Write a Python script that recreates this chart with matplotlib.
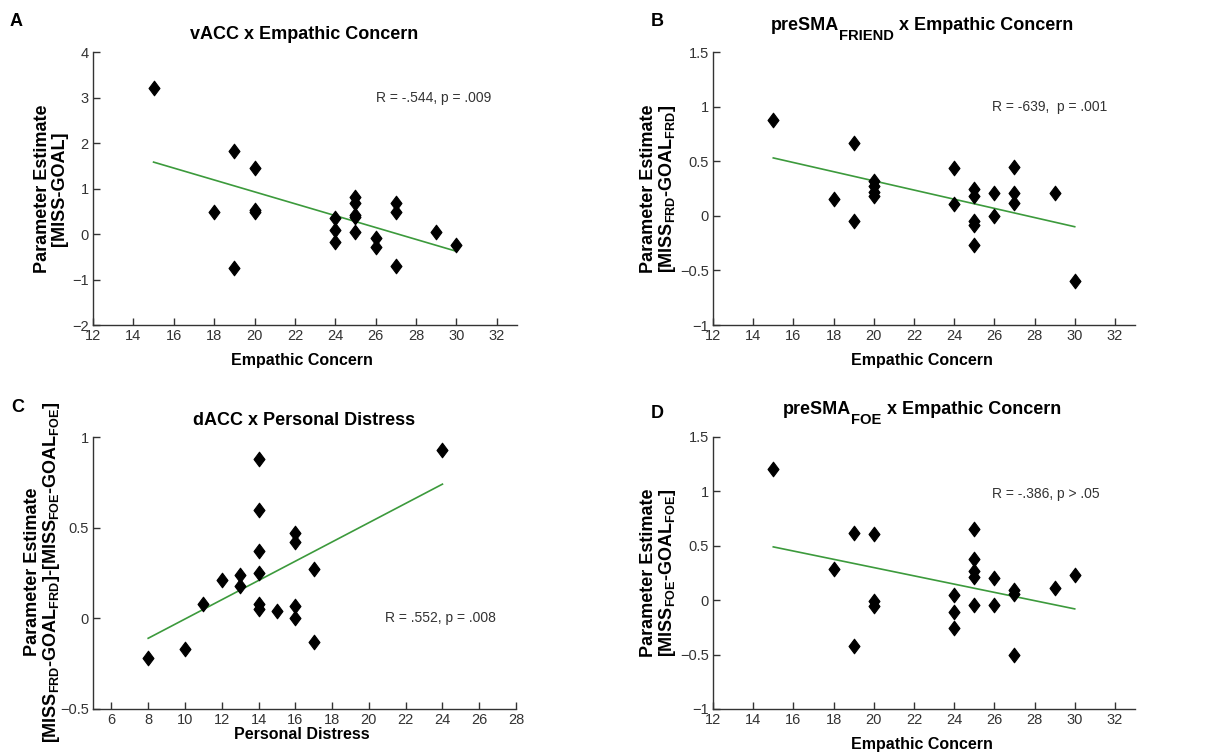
import matplotlib
matplotlib.use("Agg")
import matplotlib.pyplot as plt
from matplotlib.transforms import IdentityTransform
from matplotlib.path import Path

plt.rcParams['font.family'] = ['Liberation Sans', 'DejaVu Sans']
plt.rcParams['mathtext.fontset'] = 'custom'
plt.rcParams['mathtext.rm'] = 'Liberation Sans:bold'
plt.rcParams['mathtext.bf'] = 'Liberation Sans:bold'
plt.rcParams['mathtext.it'] = 'Liberation Sans:bold'
plt.rcParams['axes.unicode_minus'] = True

# ---------------- data ----------------
# Panel A: vACC x Empathic Concern
a_x = [15, 18, 19, 19, 20, 20, 20, 24, 24, 24, 25, 25, 25, 25, 25, 26, 26, 27, 27, 27, 29, 30]
a_y = [3.2, 0.48, 1.82, -0.75, 1.44, 0.52, 0.48, 0.35, 0.08, -0.18, 0.82, 0.68, 0.42, 0.38, 0.05,
       -0.08, -0.28, 0.68, 0.48, -0.70, 0.05, -0.25]
a_fit_x = [15, 30]
a_fit_y = [1.58, -0.38]

# Panel B: preSMA_FRIEND x Empathic Concern
b_x = [15, 18, 19, 19, 20, 20, 20, 20, 24, 24, 25, 25, 25, 25, 25, 26, 26, 27, 27, 27, 29, 30]
b_y = [0.88, 0.15, 0.67, -0.05, 0.32, 0.27, 0.22, 0.18, 0.44, 0.11, 0.25, 0.18, -0.05, -0.08, -0.27,
       0.21, 0.00, 0.45, 0.21, 0.12, 0.21, -0.60]
b_fit_x = [15, 30]
b_fit_y = [0.53, -0.10]

# Panel C: dACC x Personal Distress
c_x = [8, 10, 11, 12, 13, 13, 14, 14, 14, 14, 14, 14, 15, 16, 16, 16, 16, 17, 17, 24]
c_y = [-0.22, -0.17, 0.08, 0.21, 0.24, 0.18, 0.88, 0.60, 0.37, 0.25, 0.08, 0.05, 0.04,
       0.47, 0.42, 0.07, 0.00, 0.27, -0.13, 0.93]
c_fit_x = [8, 24]
c_fit_y = [-0.11, 0.74]

# Panel D: preSMA_FOE x Empathic Concern
d_x = [15, 18, 19, 19, 20, 20, 20, 24, 24, 24, 25, 25, 25, 25, 25, 26, 26, 27, 27, 27, 29, 30]
d_y = [1.21, 0.29, 0.62, -0.42, 0.61, -0.01, -0.05, 0.05, -0.11, -0.26, 0.65, 0.38, 0.27, 0.21, -0.04,
       0.20, -0.04, 0.09, 0.06, -0.50, 0.11, 0.23]
d_fit_x = [15, 30]
d_fit_y = [0.49, -0.08]

# titles as (text, is_subscript) segments
titles = [[('vACC x Empathic Concern', False)],
          [('preSMA', False), ('FRIEND', True), (' x Empathic Concern', False)],
          [('dACC x Personal Distress', False)],
          [('preSMA', False), ('FOE', True), (' x Empathic Concern', False)]]
xlabels = ['Empathic Concern', 'Empathic Concern', 'Personal Distress', 'Empathic Concern']
ylabels = ['Parameter Estimate\n[MISS-GOAL]',
           'Parameter Estimate\n[MISS$_{\\mathrm{FRD}}$-GOAL$_{\\mathrm{FRD}}$]',
           'Parameter Estimate\n[MISS$_{\\mathrm{FRD}}$-GOAL$_{\\mathrm{FRD}}$]-[MISS$_{\\mathrm{FOE}}$-GOAL$_{\\mathrm{FOE}}$]',
           'Parameter Estimate\n[MISS$_{\\mathrm{FOE}}$-GOAL$_{\\mathrm{FOE}}$]']
stats = ['R = -.544, p = .009', 'R = -639,  p = .001', 'R = .552, p = .008', 'R = -.386, p > .05']
letters = ['A', 'B', 'C', 'D']

xticks_ec = [12, 14, 16, 18, 20, 22, 24, 26, 28, 30, 32]
xticks_pd = [6, 8, 10, 12, 14, 16, 18, 20, 22, 24, 26, 28]
yticks_a = [-2, -1, 0, 1, 2, 3, 4]
yticks_bd = [-1, -0.5, 0, 0.5, 1, 1.5]
yticks_c = [-0.5, 0, 0.5, 1]

# ---------------- layout ----------------
fig = plt.figure(figsize=(12.21, 7.52), dpi=100)
W, H = 1221.0, 752.0

def rect(l, r, t, b):
    return [l / W, 1 - b / H, (r - l) / W, (b - t) / H]

axes = [fig.add_axes(rect(93, 517, 52, 325)),
        fig.add_axes(rect(713, 1135, 52, 325)),
        fig.add_axes(rect(93, 516, 437, 709)),
        fig.add_axes(rect(713, 1135, 437, 709))]

data = [(a_x, a_y, a_fit_x, a_fit_y), (b_x, b_y, b_fit_x, b_fit_y),
        (c_x, c_y, c_fit_x, c_fit_y), (d_x, d_y, d_fit_x, d_fit_y)]
xlims = [(12, 33), (12, 33), (5, 28), (12, 33)]
ylims = [(-2, 4), (-1, 1.5), (-0.5, 1), (-1, 1.5)]
xticks = [xticks_ec, xticks_ec, xticks_pd, xticks_ec]
yticks = [yticks_a, yticks_bd, yticks_c, yticks_bd]
stat_pos = [(26, 3.0), (25.9, 1.0), (20.9, 0.0), (25.9, 0.98)]
letter_pos = [(16, 22), (657, 22), (18, 407), (657, 413)]
title_pos = [(304, 39), (922, 30), (304, 425), (922, 414)]     # center x, baseline y (px)
xlabel_pos = [(302, 365), (922, 365), (302, 739), (922, 749)]  # center x, baseline y (px)
ylabel_pos = [(51, 189), (659, 189), (43, 572), (659, 573)]    # center x, center y (px)

diamond = Path([(0, 1), (0.75, 0), (0, -1), (-0.75, 0), (0, 1)],
               [Path.MOVETO, Path.LINETO, Path.LINETO, Path.LINETO, Path.CLOSEPOLY])

def fmt(v):
    return ('%g' % v).replace('-', '\u2212')

renderer = fig.canvas.get_renderer()

def draw_segments(cx, base_y, segments, size, sub_scale=0.82, sub_drop=10):
    texts = []
    for s, sub in segments:
        t = fig.text(0, 0, s, fontsize=size * (sub_scale if sub else 1.0), fontweight='bold',
                     ha='left', va='baseline', transform=IdentityTransform())
        texts.append((t, sub))
    widths = [t.get_window_extent(renderer).width for t, _ in texts]
    x = cx - sum(widths) / 2.0
    for (t, sub), w in zip(texts, widths):
        t.set_position((x, H - base_y - (sub_drop if sub else 0)))
        x += w

green = '#3c9a3c'
dark = '#333333'
for i, ax in enumerate(axes):
    x, y, fx, fy = data[i]
    ax.plot(fx, fy, color=green, lw=1.2, zorder=2)
    ax.plot(x, y, linestyle='none', marker=diamond, markersize=10.5, color='black',
            markeredgewidth=0.8, zorder=3)
    ax.set_xlim(*xlims[i])
    ax.set_ylim(*ylims[i])
    ax.set_xticks(xticks[i])
    ax.set_yticks(yticks[i])
    ax.set_xticklabels([fmt(v) for v in xticks[i]], fontsize=10.5)
    ax.set_yticklabels([fmt(v) for v in yticks[i]], fontsize=10.5)
    for s in ['top', 'right']:
        ax.spines[s].set_visible(False)
    for s in ['left', 'bottom']:
        ax.spines[s].set_color(dark)
        ax.spines[s].set_linewidth(1.0)
    ax.tick_params(direction='in', length=5, width=1.0, color=dark,
                   labelcolor=dark, pad=3)
    ax.text(stat_pos[i][0], stat_pos[i][1], stats[i], fontsize=10,
            color=dark, va='center', ha='left')
    ax.patch.set_visible(False)

    draw_segments(title_pos[i][0], title_pos[i][1], titles[i], 13)
    fig.text(xlabel_pos[i][0] / W, 1 - xlabel_pos[i][1] / H, xlabels[i], fontsize=11.5,
             fontweight='bold', ha='center', va='baseline')
    fig.text(ylabel_pos[i][0] / W, 1 - ylabel_pos[i][1] / H, ylabels[i], fontsize=13,
             fontweight='bold', ha='center', va='center', rotation=90,
             multialignment='center', linespacing=0.95)

for L, (px, py) in zip(letters, letter_pos):
    fig.text(px / W, 1 - py / H, L, fontsize=13, fontweight='bold', ha='center', va='center')

fig.savefig('out.png', dpi=100, facecolor='white')
